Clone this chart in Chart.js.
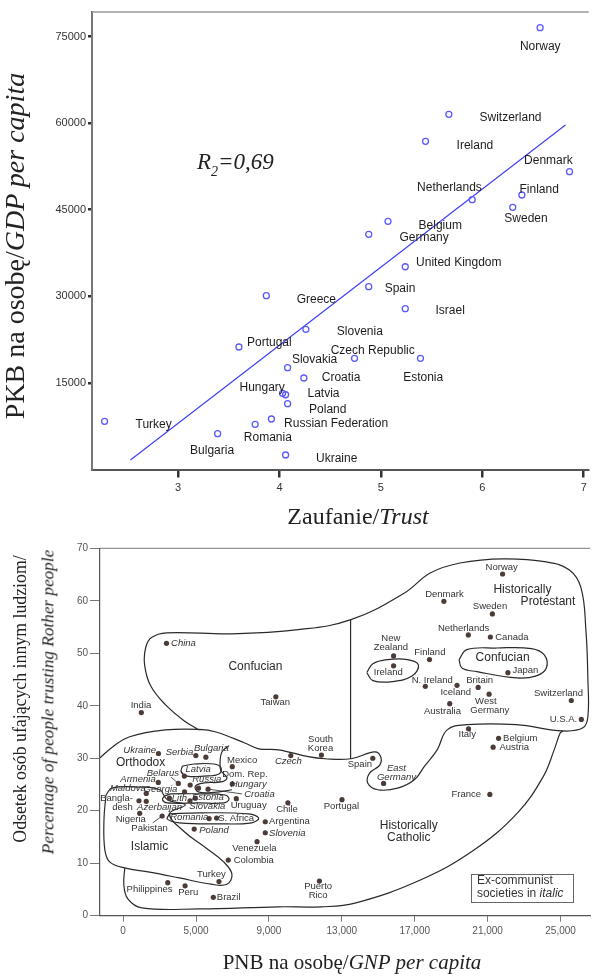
<!DOCTYPE html>
<html>
<head>
<meta charset="utf-8">
<script src="https://cdn.jsdelivr.net/npm/chart.js@4.4.1/dist/chart.umd.min.js"></script>
<style>
  html, body { margin: 0; padding: 0; background: #fff; }
  body { width: 594px; height: 977px; position: relative; overflow: hidden;
         font-family: 'Liberation Serif', 'DejaVu Serif', serif; color: #222; }
  .box { position: absolute; left: 0; width: 594px; }
  .ttl { position: absolute; white-space: nowrap; line-height: 1; transform: translate(-50%, -50%); }
  .rot { transform: translate(-50%, -50%) rotate(-90deg); }
  i { font-style: italic; }
</style>
</head>
<body>
<div class="box" style="top:0;height:530px"><canvas id="trustChart"></canvas></div>
<div class="box" style="top:530px;height:447px"><canvas id="gnpChart"></canvas></div>

<div class="ttl rot" style="left:15px;top:246px;font-size:28px">PKB na osobę/<i>GDP per capita</i></div>
<div class="ttl" style="left:358px;top:516px;font-size:24px">Zaufanie/<i>Trust</i></div>
<div style="position:absolute;left:197px;top:150px;font-size:23px;line-height:23px;font-style:italic;white-space:nowrap">R<span style="position:relative;top:7px;font-size:14px">2</span>=0,69</div>

<div class="ttl rot" style="left:21px;top:699px;font-size:17.8px">Odsetek osób ufających innym ludziom/</div>
<div class="ttl rot" style="left:48px;top:702px;font-size:17.2px"><i>Percentage of people trusting Rother people</i></div>
<div class="ttl" style="left:352px;top:962px;font-size:21px">PNB na osobę/<i>GNP per capita</i></div>

<script>
/* ── top chart: trust vs GDP ───────────────────────── */
const countries = ['Norway','Switzerland','Ireland','Denmark','Netherlands','Finland','Sweden','Belgium',
  'Germany','United Kingdom','Spain','Greece','Israel','Slovenia','Portugal','Czech Republic','Estonia',
  'Slovakia','Croatia','Hungary','Latvia','Poland','Russian Federation','Romania','Turkey','Bulgaria','Ukraine'];
const trustScore = [6.57,5.67,5.44,6.86,5.90,6.39,6.30,5.07,4.88,5.24,4.88,3.87,5.24,4.26,3.60,4.74,5.39,
  4.08,4.24,4.03,4.06,4.08,3.92,3.76,2.275,3.39,4.06];
const gdpPerCapita = [76520,61520,56840,51580,46730,47540,45410,42990,40740,35120,31660,30100,27850,24280,
  21220,19260,19260,17630,15850,13200,12950,11400,8750,7830,8350,6200,2510];
const fitTrust = [2.53, 6.82];
const fitGdp   = [1650, 59670];
const trustTicks = [3,4,5,6,7];
const gdpTicks   = [15000,30000,45000,60000,75000];

/* where each country name sits (data units) */
const nameTrust = [6.571,6.278,5.927,6.652,5.676,6.561,6.431,5.585,5.426,5.768,5.188,4.363,5.683,4.792,
  3.900,4.919,5.417,4.346,4.607,3.829,4.434,4.476,4.558,3.885,2.759,3.335,4.564];
const nameGdp = [73230,61000,56150,53480,48880,48530,43510,42230,40220,35820,31380,29360,27450,23820,
  21960,20580,15970,18970,15970,14170,13080,10310,7880,5460,7760,3260,1820];

/* ── bottom chart: GNP vs % trusting ───────────────── */
const nations = ['Norway','Denmark','Sweden','Netherlands','Canada','New Zealand','Ireland','Finland','Japan',
  'N. Ireland','Iceland','Britain','West Germany','Australia','Switzerland','U.S.A.','Italy','Belgium','Austria',
  'France','East Germany','Spain','Portugal','Puerto Rico','South Korea','Czech','Chile','Argentina','Slovenia',
  'Venezuela','Colombia','Brazil','Peru','Philippines','Turkey','China','Taiwan','India','Ukraine','Serbia',
  'Bulgaria','Mexico','Latvia','Belarus','Russia','','Croatia','Hungary','Armenia','Georgia','Maldova',
  'Lithuania','Estonia','Slovakia','Bangladesh','Azerbaijan','Uruguay','Nigeria','Pakistan','Romania',
  'S. Africa','Poland'];
const gnp = [21820,18600,21260,19940,21150,15840,15840,17810,22110,17580,19320,20480,21080,18920,25590,26140,
  19950,21600,21300,21120,15290,14700,13010,11770,11880,10200,10040,8800,8800,8350,6770,5950,4400,3450,6260,
  3380,9380,2000,2940,4990,5540,6990,4360,4030,4680,5135,5660,6990,2930,4370,2270,3540,4960,4670,1870,2270,
  7210,1910,3140,5720,6130,4900];
const trustPct = [65.1,59.9,57.5,53.5,53.1,49.5,47.6,48.8,46.3,43.7,43.9,43.5,42.2,40.4,41.0,37.4,35.6,33.8,
  32.1,23.1,25.2,30.0,22.1,6.6,30.6,30.5,21.5,17.9,15.8,14.1,10.6,3.5,5.7,6.3,6.5,51.9,41.7,38.7,30.9,30.5,
  30.2,28.4,26.6,25.2,24.9,24.3,24.1,25.1,25.4,23.6,23.3,22.4,22.4,21.9,21.9,21.8,22.3,19.5,19.0,18.5,18.6,16.5];
const gnpTicks      = [1000,5000,9000,13000,17000,21000,25000];
const gnpTickLabels = ['0','5,000','9,000','13,000','17,000','21,000','25,000'];
const pctTicks      = [0,10,20,30,40,50,60,70];

/* zone outlines, [gnp, %] */
const zoneConfucianProtestant = [[5170,35.4],[4360,37.1],[3320,40.2],[2510,43.8],[2180,47.8],[2240,51.1],
  [2560,53.0],[3380,53.9],[6970,53.7],[10610,54.5],[13500,56.4],[16440,61.5],[17850,65.3],[19480,67.2],
  [21880,68.0],[24220,67.4],[25470,65.9],[26120,62.5],[26390,54.5],[26500,45.0],[26500,37.9],[26230,35.8],
  [25140,35.2],[22580,36.4],[19860,36.4],[18780,35.4],[18230,31.6],[17520,28.4],[16980,25.9],[16060,24.3],
  [14970,24.0],[14420,25.3],[14530,27.2],[15080,28.7],[15130,30.3],[14800,31.2],[13500,29.9],[12080,29.9],
  [11160,30.3],[9530,31.6],[8440,31.8],[7680,32.9],[6100,35.0],[5170,35.5],[3320,35.4],[1360,34.1],
  [440,32.2],[-260,30.1]];
const zoneDivider = [[13480,56.4],[13480,29.9]];
const zoneIslamic = [[60,23.0],[385,24.3],[1910,24.5],[3000,24.0],[3430,22.1],[4410,21.1],[3540,19.4],
  [4360,16.0],[5550,12.9],[6530,10.2],[6970,7.9],[6700,6.0],[5830,6.0],[4090,7.2],[2450,8.3],[1090,9.1],
  [280,10.2],[0,12.5],[-50,18.3],[60,23.0]];
const zoneCatholic = [[1090,9.1],[1040,5.9],[1260,3.2],[2020,1.5],[5170,1.3],[9530,1.7],[11870,1.7],
  [13720,2.4],[17310,6.8],[20250,12.5],[22640,19.6],[24050,26.5],[24650,31.6],[24980,34.8],[25140,35.2]];
const loopIreland = [[14370,46.3],[14700,48.0],[15510,48.8],[16600,48.8],[17200,47.8],[16870,45.7],
  [15780,44.6],[14700,44.8],[14370,46.3]];
const loopJapan = [[19430,48.8],[19860,50.7],[21500,51.0],[23400,50.9],[24110,49.7],[24220,47.2],
  [23670,45.7],[22600,45.3],[20410,46.5],[19590,47.2],[19430,48.8]];
const loopLatvia = [[4250,28.5],[4900,28.9],[5990,28.9],[6370,28.2],[6260,27.0],[5450,26.6],[4520,26.6],
  [4190,27.4],[4250,28.5]];
const loopBaltic = [[3270,22.8],[3650,23.2],[5170,23.2],[6590,23.0],[6810,22.2],[6530,21.5],[5170,21.5],
  [3430,21.5],[3160,22.1],[3270,22.8]];
const loopRomania = [[3540,19.4],[5170,19.6],[7890,19.4],[8440,18.6],[8060,17.7],[6260,17.5],[4090,17.7],
  [3430,18.4],[3540,19.4]];
const bracketMexico = [[6810,32.4],[6420,31.2],[6320,29.3],[6370,27.6],[6700,26.3],[6370,25.5],[5450,25.3],
  [4960,24.7],[5120,23.6],[5990,23.5],[6970,24.0]];
const leaderCroatia  = [[5700,24.1],[7530,23.2]];
const leaderBelarus  = [[3630,26.4],[4030,25.2]];
const leaderPakistan = [[2630,17.7],[3140,19.0]];

/* text on the map: [text, gnp, %, kind]  n=plain i=italic r=zone, trailing l = left aligned */
const mapNames = [
  ['Norway',21770,66.4,'n'],['Historically',22910,62.1,'r'],['Protestant',24310,59.8,'r'],
  ['Denmark',18630,61.3,'n'],['Sweden',21130,59.0,'n'],['Netherlands',19680,54.7,'n'],['Canada',22330,53.0,'n'],
  ['New',15690,52.9,'n'],['Zealand',15690,51.2,'n'],['Finland',17830,50.2,'n'],['Confucian',21820,49.2,'r'],
  ['Ireland',15550,46.3,'n'],['Japan',23070,46.7,'n'],['N. Ireland',17960,44.9,'n'],['Britain',20560,44.8,'n'],
  ['Iceland',19250,42.5,'n'],['West',20900,40.9,'n'],['Germany',21120,39.1,'n'],['Australia',18520,39.0,'n'],
  ['Switzerland',24890,42.3,'n'],['U.S.A.',25160,37.5,'n'],['Italy',19880,34.5,'n'],['Belgium',22790,33.8,'n'],
  ['Austria',22460,32.0,'n'],['France',19830,23.1,'n'],['South',11830,33.6,'n'],['Korea',11830,31.9,'n'],
  ['Czech',10070,29.5,'i'],['Spain',13990,28.9,'n'],['East',16000,28.1,'i'],['Germany',16000,26.4,'i'],
  ['Portugal',12980,20.9,'n'],['Historically',16670,17.1,'r'],['Catholic',16670,14.8,'r'],
  ['Puerto',11700,5.5,'n'],['Rico',11700,3.8,'n'],['Chile',9990,20.2,'n'],['Argentina',9010,17.9,'nl'],
  ['Slovenia',9010,15.7,'il'],['Venezuela',8200,12.9,'n'],['Colombia',8166,10.5,'n'],['Turkey',5840,7.8,'n'],
  ['Philippines',2450,5.0,'n'],['Peru',4570,4.4,'n'],['Brazil',6140,3.4,'nl'],['Islamic',2450,13.2,'r'],
  ['China',3630,51.9,'il'],['Confucian',8260,47.5,'r'],['Taiwan',9350,40.6,'n'],['India',1980,40.0,'n'],
  ['Ukraine',1910,31.5,'i'],['Serbia',4090,31.1,'i'],['Bulgaria',5840,31.8,'i'],['Orthodox',1960,29.2,'r'],
  ['Mexico',7530,29.6,'n'],['Latvia',5120,27.9,'i'],['Belarus',3180,27.1,'i'],['Dom. Rep.',7680,27.0,'n'],
  ['Armenia',1820,25.9,'i'],['Russia',5590,25.9,'i'],['Hungary',7890,25.1,'i'],['Maldova',1260,24.2,'i'],
  ['Georgia',3050,24.0,'i'],['Croatia',8480,23.2,'i'],['Bangla-',640,22.3,'n'],['Lith',4090,22.4,'i'],
  ['Estonia',5650,22.6,'i'],['Uruguay',7890,21.0,'n'],['desh',970,20.7,'n'],['Azerbaijan',3000,20.6,'i'],
  ['Slovakia',5620,20.8,'i'],['Nigeria',1420,18.4,'n'],['Romania',4630,18.8,'i'],['S. Africa',7200,18.6,'n'],
  ['Pakistan',2450,16.7,'n'],['Poland',5990,16.3,'i']
];
const noteBox = { x1: 20100, x2: 25700, y1: 7.9, y2: 2.55, textX: 20410, line1Y: 6.6, line2Y: 4.2 };

Chart.defaults.font.family = "'Liberation Sans', Arial, sans-serif";
Chart.defaults.animation = false;

const SANS = "'Liberation Sans', Arial, sans-serif";

/* names next to the markers, positioned through the scales */
const nameLayer = {
  id: 'nameLayer',
  afterDatasetsDraw(chart, args, opts) {
    const { ctx, scales: { x, y } } = chart;
    ctx.save();
    ctx.textBaseline = 'middle';
    opts.items.forEach(([t, vx, vy, kind]) => {
      const italic = kind[0] === 'i';
      const size = kind[0] === 'r' ? opts.zoneSize : opts.size;
      ctx.font = (italic ? 'italic ' : '') + size + 'px ' + SANS;
      ctx.fillStyle = kind[0] === 'r' ? opts.zoneColor : opts.color;
      ctx.textAlign = kind.endsWith('l') ? 'left' : 'center';
      ctx.fillText(t, x.getPixelForValue(vx), y.getPixelForValue(vy));
    });
    if (opts.note) {
      const n = opts.note;
      const l = x.getPixelForValue(n.x1), r = x.getPixelForValue(n.x2);
      const t = y.getPixelForValue(n.y1), b = y.getPixelForValue(n.y2);
      ctx.strokeStyle = '#666'; ctx.lineWidth = 1;
      ctx.strokeRect(Math.round(l) + 0.5, Math.round(t) + 0.5, Math.round(r - l), Math.round(b - t));
      ctx.fillStyle = '#333'; ctx.textAlign = 'left';
      const tx = x.getPixelForValue(n.textX);
      ctx.font = '12px ' + SANS;
      ctx.fillText('Ex-communist', tx, y.getPixelForValue(n.line1Y));
      const part = 'societies in ';
      ctx.fillText(part, tx, y.getPixelForValue(n.line2Y));
      const w = ctx.measureText(part).width;
      ctx.font = 'italic 12px ' + SANS;
      ctx.fillText('italic', tx + w, y.getPixelForValue(n.line2Y));
    }
    ctx.restore();
  }
};

/* thin line along the top of the plot */
const topRule = {
  id: 'topRule',
  afterDraw(chart, args, opts) {
    const { ctx, chartArea: a } = chart;
    ctx.save();
    ctx.strokeStyle = opts.color; ctx.lineWidth = opts.width;
    ctx.beginPath(); ctx.moveTo(a.left, a.top); ctx.lineTo(a.right, a.top); ctx.stroke();
    ctx.restore();
  }
};

function fixBox(size, prop) {
  return s => { s[prop] = size; s.paddingLeft = s.paddingRight = s.paddingTop = s.paddingBottom = 0; };
}
function useTicks(list) {
  return s => { s.ticks = list.map(v => ({ value: v })); };
}

/* 1. trust vs GDP */
new Chart(document.getElementById('trustChart'), {
  type: 'scatter',
  data: {
    datasets: [
      { data: countries.map((c, i) => ({ x: trustScore[i], y: gdpPerCapita[i] })),
        pointRadius: 3, pointBorderColor: '#5a5aff', pointBackgroundColor: 'rgba(255,255,255,0)',
        pointBorderWidth: 1.3 },
      { data: fitTrust.map((v, i) => ({ x: v, y: fitGdp[i] })), showLine: true,
        borderColor: '#3b3bf7', borderWidth: 1.1, pointRadius: 0 }
    ]
  },
  options: {
    responsive: true, maintainAspectRatio: false,
    layout: { padding: { top: 12, right: 0, bottom: 0, left: 0 } },
    plugins: {
      legend: { display: false }, tooltip: { enabled: false },
      nameLayer: { items: countries.map((c, i) => [c, nameTrust[i], nameGdp[i], 'n']),
                   size: 12, zoneSize: 12, color: '#1c1c1c', zoneColor: '#1c1c1c' },
      topRule: { color: '#999', width: 1.5 }
    },
    scales: {
      x: { type: 'linear', min: 2.151, max: 7.049,
           afterBuildTicks: useTicks(trustTicks), afterFit: fixBox(60.5, 'height'),
           grid: { drawOnChartArea: false, drawTicks: true, tickLength: 8, color: '#333', lineWidth: 2.5 },
           border: { display: true, color: '#555', width: 2 },
           ticks: { color: '#333', font: { size: 11 }, padding: 4, maxRotation: 0, autoSkip: false } },
      y: { min: 0, max: 79240,
           afterBuildTicks: useTicks(gdpTicks), afterFit: fixBox(92, 'width'),
           grid: { drawOnChartArea: false, drawTicks: true, tickLength: 4, color: '#333', lineWidth: 2.5 },
           border: { display: true, color: '#777', width: 2 },
           ticks: { color: '#333', font: { size: 11 }, padding: 2, callback: v => String(v) } }
    }
  },
  plugins: [nameLayer, topRule]
});

/* 2. GNP vs trust map */
const outline = pts => ({
  data: pts.map(([x, y]) => ({ x, y })), showLine: true, pointRadius: 0,
  borderColor: '#2a2a2a', borderWidth: 1.2, tension: 0.4
});

new Chart(document.getElementById('gnpChart'), {
  type: 'scatter',
  data: {
    datasets: [
      { data: nations.map((n, i) => ({ x: gnp[i], y: trustPct[i] })),
        pointRadius: 2.6, pointBackgroundColor: '#4b3c38', pointBorderWidth: 0 },
      outline(zoneConfucianProtestant), outline(zoneDivider), outline(zoneIslamic), outline(zoneCatholic),
      outline(loopIreland), outline(loopJapan), outline(loopLatvia), outline(loopBaltic), outline(loopRomania),
      outline(bracketMexico),
      { ...outline(leaderCroatia), borderWidth: 0.8, tension: 0 },
      { ...outline(leaderBelarus), borderWidth: 0.8, tension: 0 },
      { ...outline(leaderPakistan), borderWidth: 0.8, tension: 0 }
    ]
  },
  options: {
    responsive: true, maintainAspectRatio: false,
    layout: { padding: { top: 18.3, right: 0, bottom: 0, left: 0 } },
    plugins: {
      legend: { display: false }, tooltip: { enabled: false },
      nameLayer: { items: mapNames, size: 9.5, zoneSize: 12, color: '#333', zoneColor: '#2a2a2a', note: noteBox },
      topRule: { color: '#777', width: 1 }
    },
    scales: {
      x: { type: 'linear', min: -268, max: 26616,
           afterBuildTicks: useTicks(gnpTicks), afterFit: fixBox(61.3, 'height'),
           grid: { drawOnChartArea: false, drawTicks: true, tickLength: 6, color: '#777', lineWidth: 1 },
           border: { display: true, color: '#555', width: 1.2 },
           ticks: { color: '#555', font: { size: 10 }, padding: 4, maxRotation: 0, autoSkip: false,
                    callback: (v) => gnpTickLabels[gnpTicks.indexOf(v)] } },
      y: { min: 0, max: 70,
           afterBuildTicks: useTicks(pctTicks), afterFit: fixBox(100, 'width'),
           grid: { drawOnChartArea: false, drawTicks: true, tickLength: 10, color: '#777', lineWidth: 1 },
           border: { display: true, color: '#555', width: 1.2 },
           ticks: { color: '#555', font: { size: 10 }, padding: 2 } }
    }
  },
  plugins: [nameLayer, topRule]
});
</script>
</body>
</html>
